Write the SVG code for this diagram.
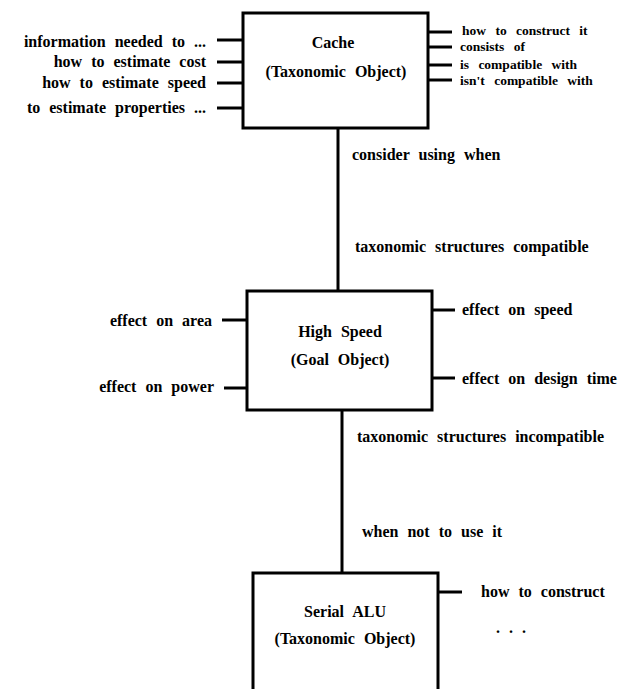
<svg xmlns="http://www.w3.org/2000/svg" width="623" height="689" viewBox="0 0 623 689">
<style>
.box{fill:#fff;stroke:#000;stroke-width:3}
.ln{stroke:#000;stroke-width:3;fill:none}
text{font-family:"Liberation Serif",serif;font-size:16px;font-weight:bold;fill:#000;word-spacing:5px}
.s{font-size:13.5px;word-spacing:6px}
.c{text-anchor:middle}
.r{text-anchor:end}
</style>
<rect width="623" height="689" fill="#fff"/>
<g id="connectors">
<line class="ln" x1="338" y1="128" x2="338" y2="292"/>
<line class="ln" x1="342" y1="410" x2="342" y2="573"/>
<line class="ln" x1="217" y1="40" x2="243" y2="40"/>
<line class="ln" x1="217" y1="62" x2="243" y2="62"/>
<line class="ln" x1="217" y1="83" x2="243" y2="83"/>
<line class="ln" x1="217" y1="108" x2="243" y2="108"/>
<line class="ln" x1="428" y1="32" x2="452" y2="32"/>
<line class="ln" x1="428" y1="47" x2="452" y2="47"/>
<line class="ln" x1="428" y1="65" x2="452" y2="65"/>
<line class="ln" x1="428" y1="80" x2="452" y2="80"/>
<line class="ln" x1="222" y1="320" x2="247" y2="320"/>
<line class="ln" x1="224" y1="388" x2="247" y2="388"/>
<line class="ln" x1="432" y1="310" x2="455" y2="310"/>
<line class="ln" x1="432" y1="378" x2="455" y2="378"/>
<line class="ln" x1="438" y1="592" x2="462" y2="592"/>
</g>
<g id="cache">
<rect class="box" x="243" y="13" width="185" height="115"/>
<text class="c" x="333" y="48">Cache</text>
<text class="c" x="336" y="77">(Taxonomic Object)</text>
</g>
<g id="cache-left">
<text class="r" x="206" y="47">information needed to ...</text>
<text class="r" x="206" y="67">how to estimate cost</text>
<text class="r" x="206" y="88">how to estimate speed</text>
<text class="r" x="206" y="113">to estimate properties ...</text>
</g>
<g id="cache-right">
<text class="s" x="462" y="35">how to construct it</text>
<text class="s" x="460" y="51">consists of</text>
<text class="s" x="460" y="69">is compatible with</text>
<text class="s" x="460" y="85">isn't compatible with</text>
</g>
<g id="labels">
<text x="352" y="160">consider using when</text>
<text x="355" y="252">taxonomic structures compatible</text>
<text x="357" y="442">taxonomic structures incompatible</text>
<text x="362" y="537">when not to use it</text>
</g>
<g id="highspeed">
<rect class="box" x="247" y="291" width="185" height="119"/>
<text class="c" x="340" y="337">High Speed</text>
<text class="c" x="340" y="365">(Goal Object)</text>
</g>
<g id="highspeed-left">
<text class="r" x="212" y="326">effect on area</text>
<text class="r" x="214" y="392">effect on power</text>
</g>
<g id="highspeed-right">
<text x="462" y="315">effect on speed</text>
<text x="462" y="384">effect on design time</text>
</g>
<g id="serialalu">
<rect class="box" x="253" y="573" width="185" height="130"/>
<text class="c" x="345" y="617">Serial ALU</text>
<text class="c" x="345" y="644">(Taxonomic Object)</text>
</g>
<g id="serialalu-right">
<text x="481" y="597">how to construct</text>
<text x="496" y="633">. . .</text>
</g>
</svg>
